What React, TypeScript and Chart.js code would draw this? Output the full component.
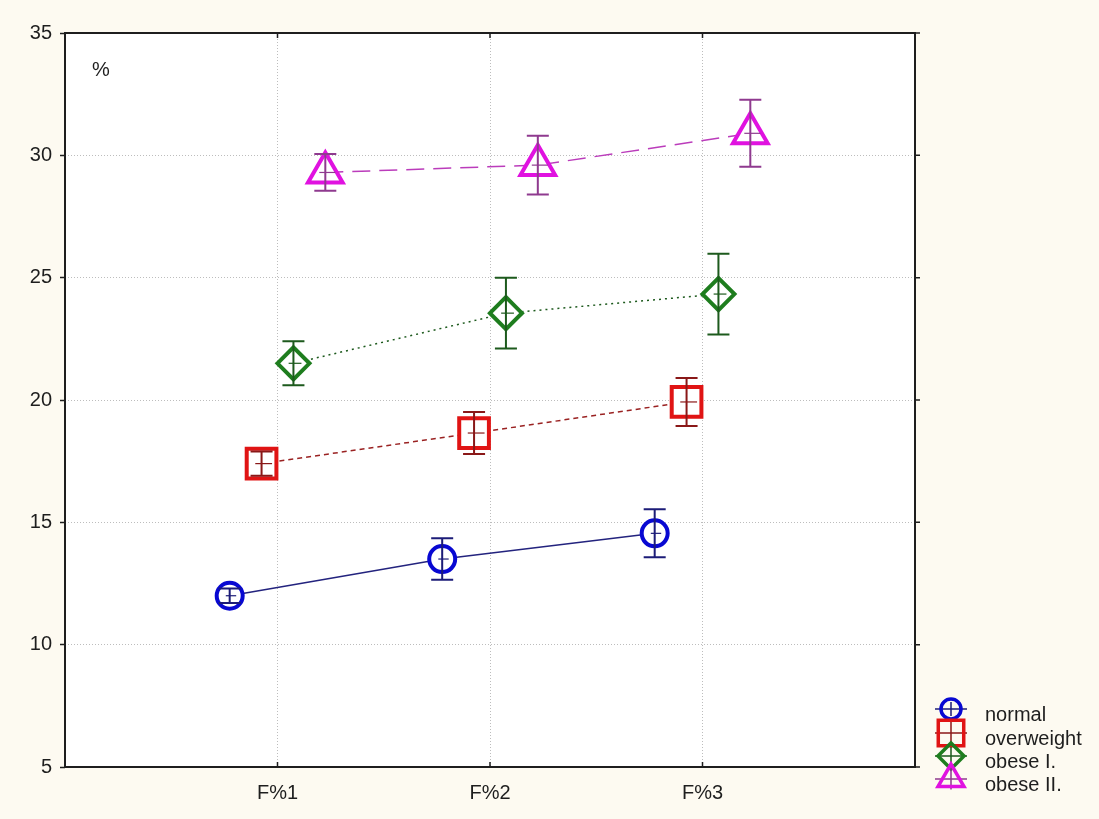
import React, { useEffect, useRef } from 'react';
import { Chart, registerables } from 'chart.js';

Chart.register(...registerables);

// ---- data ----
const categories = ['F%1', 'F%2', 'F%3'];
const seriesNames = ['normal', 'overweight', 'obese I.', 'obese II.'];
const normalMeans = [12.0, 13.5, 14.55];
const normalErrors = [0.3, 0.85, 0.98];
const overweightMeans = [17.4, 18.65, 19.92];
const overweightErrors = [0.5, 0.86, 0.98];
const obese1Means = [21.5, 23.55, 24.33];
const obese1Errors = [0.9, 1.45, 1.65];
const obese2Means = [29.3, 29.6, 30.9];
const obese2Errors = [0.75, 1.2, 1.37];
const yTickValues = [5, 10, 15, 20, 25, 30, 35];
const yUnitLabel = '%';

// ---- styles ----
const FONT = '"Liberation Sans", Arial, sans-serif';
const seriesStyles = [
  { marker: '#0808d2', dark: '#1c1c78', line: '#23237e', dash: [] as number[], pointStyle: 'circle', radius: 13, legendRadius: 10 },
  { marker: '#e01414', dark: '#8a1818', line: '#9a2222', dash: [5, 4], pointStyle: 'rect', radius: 21, legendRadius: 18 },
  { marker: '#1e7d1e', dark: '#1d5a1d', line: '#1d5a1d', dash: [2, 4], pointStyle: 'rectRot', radius: 16, legendRadius: 13 },
  { marker: '#e012e0', dark: '#8f3a8f', line: '#bb3cbb', dash: [18, 9], pointStyle: 'triangle', radius: 20, legendRadius: 15 },
];
const seriesOffsets = [-0.225, -0.075, 0.075, 0.225];

const allMeans = [normalMeans, overweightMeans, obese1Means, obese2Means];
const allErrors = [normalErrors, overweightErrors, obese1Errors, obese2Errors];

function tracePath(ctx: CanvasRenderingContext2D, style: string, x: number, y: number, r: number) {
  ctx.beginPath();
  if (style === 'circle') {
    ctx.arc(x, y, r, 0, Math.PI * 2);
  } else if (style === 'rect') {
    const s = r * Math.SQRT1_2;
    ctx.rect(x - s, y - s, 2 * s, 2 * s);
  } else if (style === 'rectRot') {
    ctx.moveTo(x - r, y);
    ctx.lineTo(x, y - r);
    ctx.lineTo(x + r, y);
    ctx.lineTo(x, y + r);
    ctx.closePath();
  } else {
    const h = Math.sin(Math.PI / 3) * r;
    ctx.moveTo(x, y - r);
    ctx.lineTo(x + h, y + r / 2);
    ctx.lineTo(x - h, y + r / 2);
    ctx.closePath();
  }
}

const errorBarPlugin = {
  id: 'errorBars',
  afterDatasetsDraw(chart: any) {
    const ctx = chart.ctx as CanvasRenderingContext2D;
    const yScale = chart.scales.y;
    chart.data.datasets.forEach((ds: any, di: number) => {
      const meta = chart.getDatasetMeta(di);
      const st = seriesStyles[di];
      meta.data.forEach((el: any, j: number) => {
        const mean = ds.data[j].y;
        const err = ds.errors[j];
        const x = el.x;
        const yT = yScale.getPixelForValue(mean + err);
        const yB = yScale.getPixelForValue(mean - err);
        const yc = el.y;
        ctx.save();
        ctx.strokeStyle = st.dark;
        ctx.lineWidth = 2;
        ctx.beginPath();
        ctx.moveTo(x, yT);
        ctx.lineTo(x, yB);
        ctx.moveTo(x - 11, yT);
        ctx.lineTo(x + 11, yT);
        ctx.moveTo(x - 11, yB);
        ctx.lineTo(x + 11, yB);
        ctx.stroke();
        ctx.lineWidth = 1.2;
        ctx.beginPath();
        ctx.moveTo(x - st.radius * 0.3, yc);
        ctx.lineTo(x + st.radius * 0.5, yc);
        ctx.stroke();
        ctx.restore();
      });
    });
  },
};

const framePlugin = {
  id: 'frame',
  beforeDraw(chart: any) {
    const { ctx, chartArea } = chart;
    ctx.save();
    ctx.fillStyle = '#fdfaf1';
    ctx.fillRect(0, 0, chart.width, chart.height);
    ctx.fillStyle = '#ffffff';
    ctx.fillRect(chartArea.left, chartArea.top, chartArea.right - chartArea.left, chartArea.bottom - chartArea.top);
    ctx.restore();
  },
  afterDraw(chart: any) {
    const { ctx, chartArea } = chart;
    const xScale = chart.scales.x;
    const yScale = chart.scales.y;
    ctx.save();
    ctx.strokeStyle = '#1e1e1e';
    ctx.lineWidth = 2;
    ctx.strokeRect(chartArea.left, chartArea.top, chartArea.right - chartArea.left, chartArea.bottom - chartArea.top);
    // inward category ticks top and bottom
    ctx.lineWidth = 1.5;
    ctx.beginPath();
    categories.forEach((_, i) => {
      const px = xScale.getPixelForValue(i + 1);
      ctx.moveTo(px, chartArea.bottom);
      ctx.lineTo(px, chartArea.bottom - 5);
      ctx.moveTo(px, chartArea.top);
      ctx.lineTo(px, chartArea.top + 5);
    });
    // right side outward y ticks
    yTickValues.forEach((v) => {
      const py = yScale.getPixelForValue(v);
      ctx.moveTo(chartArea.right, py);
      ctx.lineTo(chartArea.right + 5, py);
    });
    ctx.stroke();
    // unit label
    ctx.fillStyle = '#1e1e1e';
    ctx.font = `20px ${FONT}`;
    ctx.textAlign = 'left';
    ctx.textBaseline = 'middle';
    ctx.fillText(yUnitLabel, chartArea.left + 27, chartArea.top + 37);

    // legend
    const mx = chartArea.right + 36;
    const tx = chartArea.right + 70;
    const textYs = [715, 739, 762, 785];
    seriesNames.forEach((name, i) => {
      const st = seriesStyles[i];
      const ty = textYs[i];
      const my = ty - 6;
      const r = st.legendRadius;
      ctx.strokeStyle = st.dark;
      ctx.lineWidth = 1.5;
      ctx.beginPath();
      ctx.moveTo(mx - 16, my);
      ctx.lineTo(mx + 16, my);
      ctx.moveTo(mx, my - r * 0.7);
      ctx.lineTo(mx, my + r * 0.7);
      ctx.stroke();
      ctx.strokeStyle = st.marker;
      ctx.lineWidth = 3.5;
      tracePath(ctx, st.pointStyle, mx, my, r);
      ctx.stroke();
      ctx.fillStyle = '#1e1e1e';
      ctx.font = `20px ${FONT}`;
      ctx.textAlign = 'left';
      ctx.textBaseline = 'middle';
      ctx.fillText(name, tx, ty);
    });
    ctx.restore();
  },
};

export default function App() {
  const canvasRef = useRef<HTMLCanvasElement | null>(null);

  useEffect(() => {
    const canvas = canvasRef.current;
    if (!canvas) return;
    const datasets = seriesNames.map((name, si) => {
      const st = seriesStyles[si];
      return {
        label: name,
        data: allMeans[si].map((m, i) => ({ x: i + 1 + seriesOffsets[si], y: m })),
        errors: allErrors[si],
        borderColor: st.line,
        borderWidth: 1.5,
        borderDash: st.dash,
        pointStyle: st.pointStyle,
        pointRadius: st.radius,
        pointBorderColor: st.marker,
        pointBackgroundColor: '#ffffff',
        pointBorderWidth: 4,
        tension: 0,
        fill: false,
      };
    });

    const chart = new Chart(canvas, {
      type: 'line',
      data: { datasets } as any,
      options: {
        responsive: false,
        animation: false,
        layout: { padding: { top: 33, right: 184, left: 0, bottom: 0 } },
        plugins: {
          legend: { display: false },
          tooltip: { enabled: false },
        },
        scales: {
          x: {
            type: 'linear',
            min: 0,
            max: 4,
            afterFit: (s: any) => { s.height = 52; },
            ticks: {
              stepSize: 1,
              padding: 14,
              color: '#1e1e1e',
              font: { family: FONT, size: 20 },
              callback: (v: any) => {
                const n = Number(v);
                return n >= 1 && n <= 3 && Number.isInteger(n) ? categories[n - 1] : '';
              },
            },
            grid: { color: '#bdbdbd', lineWidth: 1, drawTicks: false },
            border: { display: false, dash: [1, 2] },
          },
          y: {
            type: 'linear',
            min: 5,
            max: 35,
            afterFit: (s: any) => { s.width = 65; },
            ticks: {
              stepSize: 5,
              padding: 8,
              color: '#1e1e1e',
              font: { family: FONT, size: 20 },
            },
            grid: { color: '#bdbdbd', lineWidth: 1, drawTicks: true, tickLength: 5, tickColor: '#1e1e1e', tickWidth: 1.5 },
            border: { display: false, dash: [1, 2] },
          },
        },
      } as any,
      plugins: [framePlugin, errorBarPlugin],
    });
    return () => chart.destroy();
  }, []);

  return (
    <div style={{ position: 'fixed', left: 0, top: 0, width: 1099, height: 819, background: '#fdfaf1' }}>
      <canvas ref={canvasRef} width={1099} height={819} style={{ display: 'block' }} />
    </div>
  );
}
